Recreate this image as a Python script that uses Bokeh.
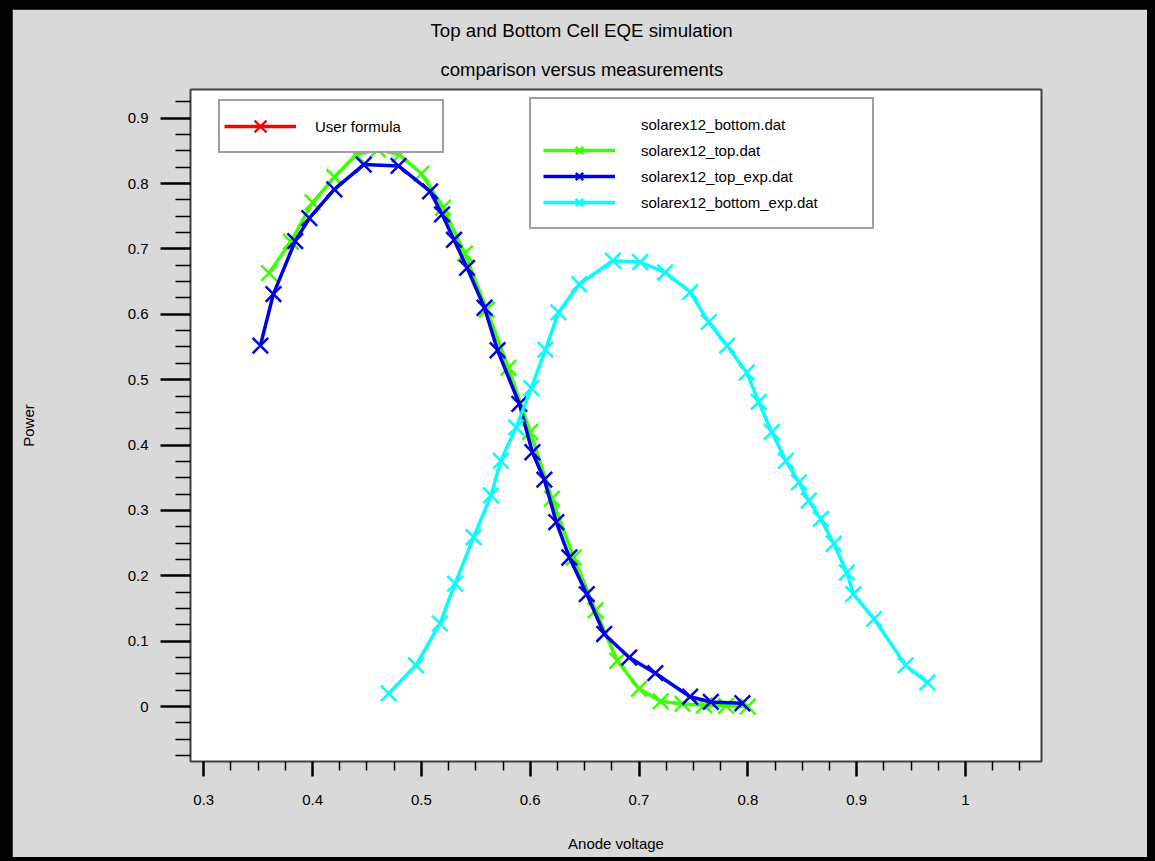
from bokeh.plotting import figure
from bokeh.models import (Legend, LegendItem, Title, FixedTicker,
                          NumeralTickFormatter, Range1d)
from bokeh.layouts import column
from bokeh.embed import file_html
from bokeh.resources import INLINE

NAN = float("nan")

# ---------------- data ----------------
top_x = [0.36, 0.38, 0.40, 0.42, 0.44, 0.46, 0.48, 0.50, 0.52, 0.54, 0.56, 0.58,
         0.60, 0.62, 0.64, 0.66, 0.68, 0.70, 0.72, 0.74, 0.76, 0.78, 0.80]
top_y = [0.663, 0.711, 0.771, 0.810, 0.844, 0.852, 0.844, 0.815, 0.763, 0.693, 0.607, 0.518,
         0.420, 0.318, 0.228, 0.147, 0.070, 0.027, 0.008, 0.004, 0.002, 0.001, 0.000]

top_exp_x = [0.352, 0.364, 0.384, 0.397, 0.420, 0.447, 0.479, 0.508, 0.519, 0.530, 0.542, 0.558, 0.570,
             0.590, 0.602, 0.613, 0.624, 0.636, 0.652, 0.668, 0.691, 0.715, 0.747, 0.766, 0.795]
top_exp_y = [0.552, 0.631, 0.712, 0.747, 0.791, 0.829, 0.827, 0.788, 0.753, 0.714, 0.671, 0.610, 0.545,
             0.463, 0.389, 0.347, 0.282, 0.228, 0.172, 0.111, 0.075, 0.051, 0.015, 0.007, 0.005]

bottom_exp_x = [0.470, 0.495, 0.517, 0.531, 0.548, 0.564, 0.573, 0.587, 0.601, 0.614, 0.626, 0.645,
                0.676, 0.701, 0.724, 0.747, 0.764, 0.781, 0.799, 0.810, 0.822, 0.835, 0.847, 0.856,
                0.867, 0.879, 0.891, 0.897, 0.916, 0.945, 0.965]
bottom_exp_y = [0.020, 0.063, 0.127, 0.188, 0.259, 0.323, 0.376, 0.427, 0.487, 0.546, 0.603, 0.646,
                0.682, 0.680, 0.664, 0.634, 0.588, 0.552, 0.511, 0.466, 0.420, 0.376, 0.343, 0.315,
                0.287, 0.249, 0.205, 0.172, 0.134, 0.063, 0.037]

# series listed in the legends but not visible in the plot area
user_formula_x = [NAN]
user_formula_y = [NAN]
bottom_x = [NAN]
bottom_y = [NAN]

x_ticks = [0.3, 0.4, 0.5, 0.6, 0.7, 0.8, 0.9, 1.0]
x_tick_labels = ["0.3", "0.4", "0.5", "0.6", "0.7", "0.8", "0.9", "1"]
y_ticks = [0.0, 0.1, 0.2, 0.3, 0.4, 0.5, 0.6, 0.7, 0.8, 0.9]
y_tick_labels = ["0", "0.1", "0.2", "0.3", "0.4", "0.5", "0.6", "0.7", "0.8", "0.9"]
x_minor = [0.325, 0.35, 0.375, 0.425, 0.45, 0.475, 0.525, 0.55, 0.575, 0.625, 0.65, 0.675,
           0.725, 0.75, 0.775, 0.825, 0.85, 0.875, 0.925, 0.95, 0.975, 1.025, 1.05]
y_minor = [-0.075, -0.05, -0.025, 0.025, 0.05, 0.075, 0.125, 0.15, 0.175, 0.225, 0.25, 0.275,
           0.325, 0.35, 0.375, 0.425, 0.45, 0.475, 0.525, 0.55, 0.575, 0.625, 0.65, 0.675,
           0.725, 0.75, 0.775, 0.825, 0.85, 0.875, 0.925]

FONT = "Liberation Sans"
GREEN = "#3cff00"
BLUE = "#0000e6"
CYAN = "#00ffff"
RED = "#ff0000"
MS = 22

p = figure(width=1135, height=848, output_backend="svg", toolbar_location=None,
           x_range=Range1d(0.2878, 1.0699), y_range=Range1d(-0.0841, 0.9439),
           min_border_left=178, min_border_right=106, min_border_top=80, min_border_bottom=96,
           background_fill_color="white", border_fill_color="#d9d9d9",
           title="Top and Bottom Cell EQE simulation")
p.grid.visible = False
p.outline_line_color = "#404040"
p.outline_line_width = 2

p.title.align = "left"
p.title.offset = 240
p.title.standoff = 12
p.title.text_font = FONT
p.title.text_font_size = "18.7px"
p.title.text_font_style = "normal"
p.title.text_color = "black"
sub = Title(text="comparison versus measurements", align="left", offset=250, standoff=20,
            text_font=FONT, text_font_size="18.5px", text_font_style="normal", text_color="black")
p.add_layout(sub, "above")

p.xaxis.ticker = FixedTicker(ticks=x_ticks, minor_ticks=x_minor)
p.yaxis.ticker = FixedTicker(ticks=y_ticks, minor_ticks=y_minor)
p.xaxis.formatter = NumeralTickFormatter(format="0.[0]")
p.yaxis.formatter = NumeralTickFormatter(format="0.[0]")
p.xaxis.major_label_overrides = dict(zip(x_ticks, x_tick_labels))
p.yaxis.major_label_overrides = dict(zip(y_ticks, y_tick_labels))
p.xaxis.axis_label = "Anode voltage"
p.yaxis.axis_label = "Power"
for ax in (p.xaxis[0], p.yaxis[0]):
    ax.axis_line_color = None
    ax.major_tick_line_color = "black"
    ax.minor_tick_line_color = "black"
    ax.major_tick_in = 0
    ax.minor_tick_in = 0
    ax.major_tick_line_width = 2.5
    ax.minor_tick_line_width = 1.5
    ax.major_label_text_font = FONT
    ax.major_label_text_font_size = "15px"
    ax.major_label_text_color = "black"
    ax.axis_label_text_font = FONT
    ax.axis_label_text_font_size = "15px"
    ax.axis_label_text_font_style = "normal"
    ax.axis_label_text_color = "black"
p.yaxis.major_tick_out = 30
p.yaxis.minor_tick_out = 15
p.yaxis.major_label_standoff = 12
p.yaxis.axis_label_standoff = 88
p.xaxis.major_tick_out = 15
p.xaxis.minor_tick_out = 9
p.xaxis.major_label_standoff = 18
p.xaxis.axis_label_standoff = 27

uf_l = p.line(user_formula_x, user_formula_y, line_color=RED, line_width=3.5)
uf_s = p.scatter(user_formula_x, user_formula_y, marker="x", size=MS, line_color=RED, line_width=2.5)
bot_l = p.line(bottom_x, bottom_y, line_color="white", line_alpha=0, line_width=3)

top_l = p.line(top_x, top_y, line_color=GREEN, line_width=3.5)
top_s = p.scatter(top_x, top_y, marker="x", size=MS, line_color=GREEN, line_width=2.5)
exp_l = p.line(top_exp_x, top_exp_y, line_color=BLUE, line_width=3.5)
exp_s = p.scatter(top_exp_x, top_exp_y, marker="x", size=MS, line_color=BLUE, line_width=2.5)
bex_l = p.line(bottom_exp_x, bottom_exp_y, line_color=CYAN, line_width=3.5)
bex_s = p.scatter(bottom_exp_x, bottom_exp_y, marker="x", size=MS, line_color=CYAN, line_width=2.5)

def style_legend(leg):
    leg.margin = 0
    leg.border_line_color = "#404040"
    leg.border_line_width = 2
    leg.background_fill_color = "white"
    leg.background_fill_alpha = 1
    leg.label_text_font = FONT
    leg.label_text_font_size = "15px"
    leg.label_text_color = "black"
    leg.click_policy = "none"

leg1 = Legend(items=[LegendItem(label="User formula", renderers=[uf_l, uf_s])],
              location=(28, 608), padding=4, glyph_width=72, glyph_height=42,
              label_height=42, label_standoff=19, label_width=123, spacing=0)
style_legend(leg1)
leg2 = Legend(items=[LegendItem(label="solarex12_bottom.dat", renderers=[bot_l]),
                     LegendItem(label="solarex12_top.dat", renderers=[top_l, top_s]),
                     LegendItem(label="solarex12_top_exp.dat", renderers=[exp_l, exp_s]),
                     LegendItem(label="solarex12_bottom_exp.dat", renderers=[bex_l, bex_s])],
              location=(339, 532), padding=12, glyph_width=72, glyph_height=26,
              label_height=26, label_standoff=26, label_width=219, spacing=0)
style_legend(leg2)
p.add_layout(leg1)
p.add_layout(leg2)

layout = column(p, styles={"background-color": "black", "padding": "9px 8px 4px 12px"})

open("out.html", "w").write(file_html(layout, INLINE))
